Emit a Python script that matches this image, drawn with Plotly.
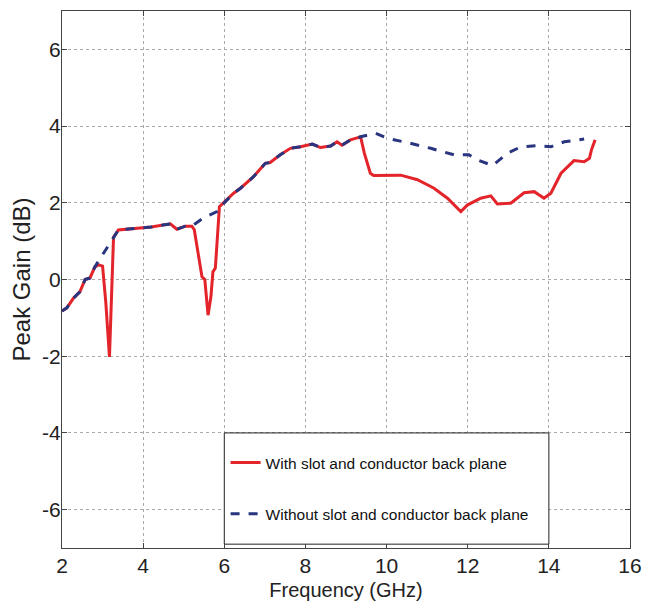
import plotly.graph_objects as go

# With slot and conductor back plane (red, solid)
freq_with = [2.0, 2.12, 2.28, 2.44, 2.57, 2.69, 2.81, 2.9, 3.0, 3.08, 3.17, 3.27, 3.39,
             3.8, 4.2, 4.67, 4.83, 5.04, 5.2, 5.26, 5.36, 5.45, 5.52, 5.57, 5.6, 5.67, 5.72,
             5.78, 5.88, 5.98, 6.23, 6.4, 6.72, 7.01, 7.13, 7.38, 7.63, 7.88, 8.17, 8.37,
             8.62, 8.78, 8.9, 9.11, 9.36, 9.45, 9.6, 9.68, 10.35, 10.76, 11.17, 11.5, 11.83,
             11.99, 12.32, 12.57, 12.73, 13.06, 13.39, 13.64, 13.88, 14.05, 14.3, 14.62,
             14.87, 15.0, 15.05, 15.14]
gain_with = [-0.82, -0.74, -0.49, -0.32, 0.0, 0.04, 0.33, 0.38, 0.35, -0.6, -2.02, 1.1, 1.29,
             1.33, 1.37, 1.45, 1.31, 1.39, 1.39, 1.3, 0.6, 0.07, 0.0, -0.53, -0.93, -0.45, 0.2,
             0.3, 1.9, 2.0, 2.25, 2.38, 2.68, 3.03, 3.05, 3.25, 3.42, 3.46, 3.53, 3.44,
             3.48, 3.59, 3.5, 3.64, 3.72, 3.3, 2.77, 2.71, 2.72, 2.6, 2.38, 2.12, 1.77,
             1.94, 2.12, 2.18, 1.97, 1.99, 2.26, 2.29, 2.12, 2.25, 2.77, 3.1,
             3.07, 3.16, 3.38, 3.64]

# Without slot and conductor back plane (blue, dashed)
freq_without = [2.0, 2.12, 2.28, 2.44, 2.57, 2.69, 2.81, 3.1, 3.39, 3.8, 4.2, 4.67, 4.83,
                5.04, 5.2, 5.48, 5.82, 6.0, 6.23, 6.4, 6.72, 7.01, 7.13, 7.38, 7.63, 7.88,
                8.17, 8.37, 8.62, 8.78, 8.9, 9.11, 9.36, 9.73, 10.02, 10.51, 11.09, 11.66,
                12.03, 12.24, 12.61, 12.98, 13.31, 13.72, 14.05, 14.38, 14.87]
gain_without = [-0.82, -0.74, -0.49, -0.32, 0.0, 0.04, 0.33, 0.8, 1.29, 1.33, 1.37, 1.45, 1.31,
                1.39, 1.39, 1.6, 1.77, 2.0, 2.25, 2.38, 2.68, 3.03, 3.05, 3.25, 3.42, 3.46,
                3.53, 3.44, 3.48, 3.59, 3.5, 3.64, 3.72, 3.81, 3.68, 3.57, 3.42, 3.25,
                3.25, 3.12, 2.97, 3.29, 3.46, 3.49, 3.46, 3.59, 3.66]

x_ticks = [2, 4, 6, 8, 10, 12, 14, 16]
x_tick_labels = ["2", "4", "6", "8", "10", "12", "14", "16"]
y_ticks = [-6, -4, -2, 0, 2, 4, 6]
y_tick_labels = ["-6", "-4", "-2", "0", "2", "4", "6"]

font = "Liberation Sans, Arial, sans-serif"

fig = go.Figure()
fig.add_trace(go.Scatter(x=freq_with, y=gain_with, mode="lines",
                         name="With slot and conductor back plane",
                         legendgroup="a",
                         line=dict(color="#e3242b", width=3)))
fig.add_trace(go.Scatter(x=freq_without, y=gain_without, mode="lines",
                         name="Without slot and conductor back plane",
                         legendgroup="b",
                         line=dict(color="#2a3580", width=3, dash="dash")))

# legend box
fig.add_shape(type="rect", xref="x", yref="y", x0=6, x1=14, y0=-6.9, y1=-4,
              fillcolor="white", line=dict(color="#222", width=1), layer="above")

axis_common = dict(showline=True, linecolor="#444", linewidth=1, mirror="ticks",
                   ticks="inside", ticklen=5, tickcolor="#444",
                   showgrid=True, gridcolor="#aaa", griddash="dot", gridwidth=1,
                   zeroline=False, tickfont=dict(family=font, size=21, color="#222"))

fig.update_xaxes(range=[2, 16], tickvals=x_ticks, ticktext=x_tick_labels,
                 ticklabelstandoff=-1,
                 title=dict(text="Frequency (GHz)", font=dict(family=font, size=20, color="#222"),
                            standoff=6),
                 **axis_common)
fig.update_yaxes(range=[-7, 7], tickvals=y_ticks, ticktext=y_tick_labels,
                 ticklabelstandoff=-4,
                 title=dict(text="Peak Gain (dB)", font=dict(family=font, size=24, color="#222"),
                            standoff=5),
                 **axis_common)

fig.update_layout(
    width=642, height=596,
    margin=dict(l=54, r=20, t=3, b=56),
    plot_bgcolor="white", paper_bgcolor="white",
    showlegend=True,
    legend=dict(x=0.288, y=0.19, xanchor="left", yanchor="top",
                bgcolor="rgba(0,0,0,0)", borderwidth=0,
                tracegroupgap=28,
                font=dict(family=font, size=15.5, color="#111")),
)

fig.write_html("out.html")
